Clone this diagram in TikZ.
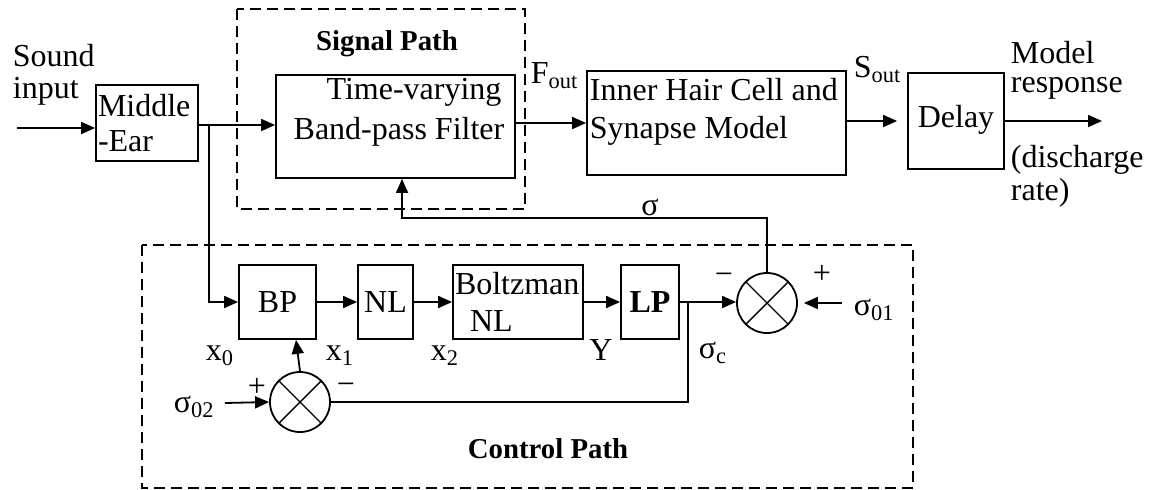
\documentclass[tikz,border=0pt]{standalone}
\usepackage{fontspec}
\setmainfont{Liberation Serif}
\usetikzlibrary{arrows.meta, positioning, calc}

\begin{document}
\begin{tikzpicture}[x=0.5pt, y=-0.5pt, >={Triangle[length=7pt,width=6pt]},
    line width=0.9pt, font=\fontsize{16}{15}\selectfont,
    blk/.style={draw, inner sep=1pt},
    sumnode/.style={draw, circle, minimum size=30pt, inner sep=0pt,
        path picture={\draw[line width=0.7pt] (path picture bounding box.south west) -- (path picture bounding box.north east)
            (path picture bounding box.north west) -- (path picture bounding box.south east);}},
    grp/.style={dash pattern=on 5.5pt off 3pt},
    ttl/.style={font=\fontsize{14.4}{15}\selectfont\bfseries},
    lbl/.style={inner sep=0pt}]
    \useasboundingbox (0,0) rectangle (1158,489);
    % Signal path
    \draw[grp] (237,9) rectangle (525,209);
    \node[ttl, anchor=base] (sigttl) at (387,50) {Signal Path};
    \node[blk, minimum width=51pt, minimum height=38pt, align=left, text width=49pt] (midear) at (147,123) {Middle\\[2.5pt]-Ear};
    \node[blk, minimum width=119.5pt, minimum height=51.5pt] (filter) at (395.5,126.5) {};
    \node[lbl, align=center] (filtertxt) at (399,112.5) {\hspace*{15pt}Time-varying\\[5pt]Band-pass Filter};
    \node[blk, minimum width=129.5pt, minimum height=52pt] (ihc) at (716.5,123) {};
    \node[lbl, align=left, anchor=west] (ihctxt) at (589,111.5) {Inner Hair Cell and\\[4pt]Synapse Model};
    \node[blk, minimum width=48pt, minimum height=48pt, text depth=5pt] (delay) at (956,121) {Delay};
    % Control path
    \draw[grp] (142,245) rectangle (913,488);
    \node[ttl, anchor=base] (ctlttl) at (548,458) {Control Path};
    \node[blk, minimum width=38.5pt, minimum height=37pt] (bp) at (277.5,302) {BP};
    \node[blk, minimum width=27.5pt, minimum height=37pt] (nl) at (385.5,302) {NL};
    \node[blk, minimum width=65pt, minimum height=37pt, align=left, text width=63pt] (boltz) at (518,302) {Boltzman\\[3.5pt]\hspace*{7.5pt}NL};
    \node[blk, minimum width=29pt, minimum height=37pt, font=\fontsize{16}{15}\selectfont\bfseries] (lp) at (650,302) {LP};
    \node[sumnode] (sum1) at (767,303) {};
    \node[sumnode] (sum2) at (300,402) {};
    % Wire points
    \coordinate (src) at (17,128);
    \coordinate (br) at (209,125);
    \coordinate (dst) at (1102,121);
    \coordinate (fb) at (402,218);
    \coordinate (sc) at (688,303);
    \coordinate (s01) at (842,303);
    \coordinate (s02) at (225,403);
    % Signal wires
    \draw[->] (src) -- (src -| midear.west);
    \draw[->] (br -| midear.east) -- (br -| filter.west);
    \draw[->] (filter.east |- ihc.west) -- (ihc.west);
    \draw[->, shorten >=5pt] (ihc.east |- delay.west) -- (delay.west);
    \draw[->] (delay.east) -- (dst);
    % Control wires
    \draw[->] (br) |- (bp.west);
    \draw[->] (bp) -- (nl);
    \draw[->] (nl) -- (boltz);
    \draw[->] (boltz) -- (lp);
    \draw[->] (lp.east) -- (lp.east -| sum1.west);
    \draw (sc) |- (sum2.east);
    \draw[->, shorten >=3pt] (s01) -- (sum1.east);
    \draw[->] (sum1.north) |- (fb) -- (fb |- filter.south);
    \draw[->] (sum2.north) -- ([xshift=-2pt]sum2.north |- bp.south);
    \draw[->] (s02) -- (sum2.west);
    % Labels
    \node[lbl, align=left, anchor=west] (srctxt) at (12,75) {Sound\\[1pt]input};
    \node[lbl, anchor=base west] (fout) at (530,83) {F\textsubscript{out}};
    \node[lbl, anchor=base west] (sout) at (853,77) {S\textsubscript{out}};
    \node[lbl, align=left, anchor=west] (resp) at (1010,70) {Model\\[-0.5pt]response};
    \node[lbl, align=left, anchor=west] (rate) at (1010,176) {(discharge\\[1.5pt]rate)};
    \node[lbl, anchor=base] (sig) at (650,215) {σ};
    \node[lbl, anchor=base west] (x0) at (205,360) {x\textsubscript{0}};
    \node[lbl, anchor=base west] (x1) at (325,360) {x\textsubscript{1}};
    \node[lbl, anchor=base west] (x2) at (430,360) {x\textsubscript{2}};
    \node[lbl, anchor=base] (yout) at (601,360) {Y};
    \node[lbl, anchor=base west] (sigc) at (698,358) {σ\textsubscript{c}};
    \node[lbl, anchor=base west] (sig01) at (853,315) {σ\textsubscript{01}};
    \node[lbl, anchor=base west] (sig02) at (173,412) {σ\textsubscript{02}};
    \node[lbl] (m1) at (724,279) {−};
    \node[lbl] (p1) at (822,274) {+};
    \node[lbl] (p2) at (257,387) {+};
    \node[lbl] (m2) at (346,389) {−};
\end{tikzpicture}
\end{document}
